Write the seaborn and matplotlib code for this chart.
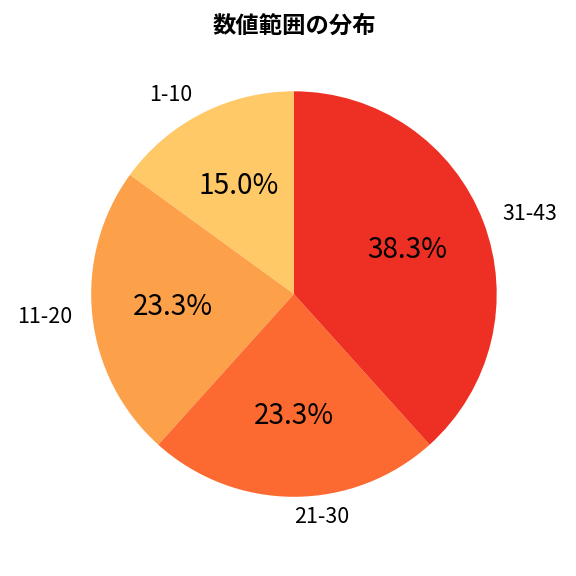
import matplotlib
matplotlib.use("Agg")
import matplotlib.pyplot as plt
import seaborn as sns

categories = ["1-10", "11-20", "21-30", "31-43"]
counts = [9, 14, 14, 23]
colors = ["#FEC966", "#FCA14A", "#FC6A32", "#EE3024"]

sns.set_theme(style="white")
plt.rcParams['font.family'] = ['Noto Sans CJK JP', 'DejaVu Sans']

fig = plt.figure(figsize=(6, 6), dpi=96)
ax = fig.add_axes([0.0703, 0.0495, 0.880, 0.880])
wedges, texts, autotexts = ax.pie(
    counts, labels=categories, colors=colors, autopct="%1.1f%%",
    startangle=90, counterclock=True,
    wedgeprops={"linewidth": 0},
    textprops={"fontsize": 16, "color": "black"},
)
for t in autotexts:
    t.set_fontsize(21)
ax.set_title("数値範囲の分布", fontsize=17.5, fontweight="bold", color="black", pad=6)
fig.savefig("out.png", dpi=96)
